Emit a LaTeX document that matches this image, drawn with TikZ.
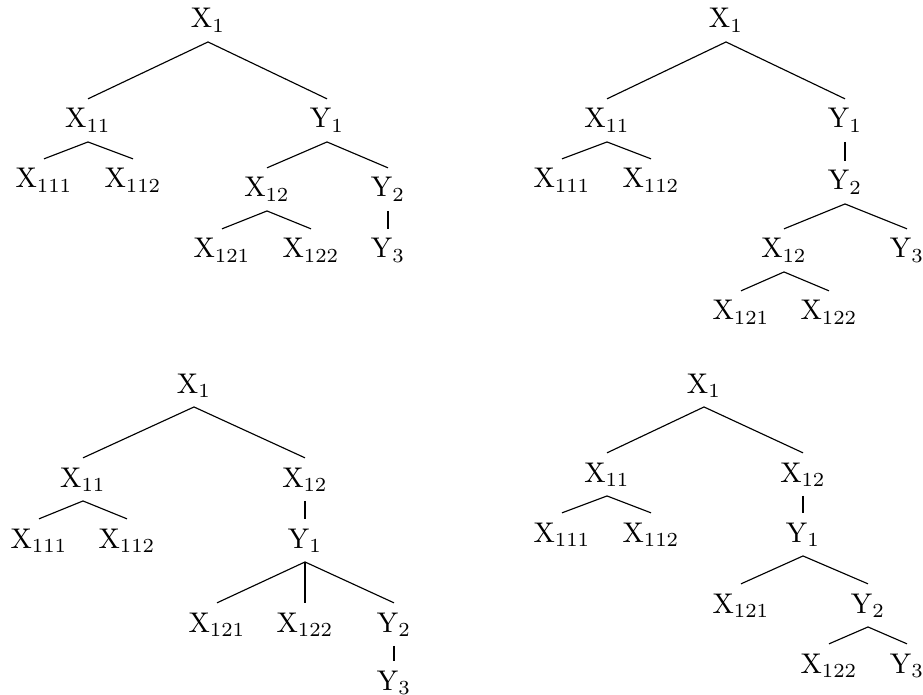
\documentclass[tikz,border=0pt]{standalone}
\begin{document}
\begin{tikzpicture}[x=0.351pt,y=-0.351pt,
  nd/.style={anchor=base,inner sep=3.2pt},
  edge/.style={draw,line width=0.4pt}]
\useasboundingbox (0,0) rectangle (923,695);
% ---- tree A (top left)
\node[nd] (aX1)   at (208,28)  {$\mathrm{X}_{1}$};
\node[nd] (aX11)  at (88,128)  {$\mathrm{X}_{11}$};
\node[nd] (aY1)   at (327,128) {$\mathrm{Y}_{1}$};
\node[nd] (aX111) at (44,188)  {$\mathrm{X}_{111}$};
\node[nd] (aX112) at (133,188) {$\mathrm{X}_{112}$};
\node[nd] (aX12)  at (267,197) {$\mathrm{X}_{12}$};
\node[nd] (aY2)   at (388,197) {$\mathrm{Y}_{2}$};
\node[nd] (aX121) at (222,258) {$\mathrm{X}_{121}$};
\node[nd] (aX122) at (311,258) {$\mathrm{X}_{122}$};
\node[nd] (aY3)   at (388,258) {$\mathrm{Y}_{3}$};
\draw[edge] (aX1.south) -- (aX11.north);
\draw[edge] (aX1.south) -- (aY1.north);
\draw[edge] (aX11.south) -- (aX111.north);
\draw[edge] (aX11.south) -- (aX112.north);
\draw[edge] (aY1.south) -- (aX12.north);
\draw[edge] (aY1.south) -- (aY2.north);
\draw[edge] (aX12.south) -- (aX121.north);
\draw[edge] (aX12.south) -- (aX122.north);
\draw[edge] (aY2.south) -- (aY3.north);
% ---- tree B (top right)
\node[nd] (bX1)   at (726,28)  {$\mathrm{X}_{1}$};
\node[nd] (bX11)  at (607,128) {$\mathrm{X}_{11}$};
\node[nd] (bY1)   at (845,128) {$\mathrm{Y}_{1}$};
\node[nd] (bX111) at (562,188) {$\mathrm{X}_{111}$};
\node[nd] (bX112) at (651,188) {$\mathrm{X}_{112}$};
\node[nd] (bY2)   at (845,190) {$\mathrm{Y}_{2}$};
\node[nd] (bX12)  at (784,258) {$\mathrm{X}_{12}$};
\node[nd] (bY3)   at (907,258) {$\mathrm{Y}_{3}$};
\node[nd] (bX121) at (741,320) {$\mathrm{X}_{121}$};
\node[nd] (bX122) at (829,320) {$\mathrm{X}_{122}$};
\draw[edge] (bX1.south) -- (bX11.north);
\draw[edge] (bX1.south) -- (bY1.north);
\draw[edge] (bX11.south) -- (bX111.north);
\draw[edge] (bX11.south) -- (bX112.north);
\draw[edge] (bY1.south) -- (bY2.north);
\draw[edge] (bY2.south) -- (bX12.north);
\draw[edge] (bY2.south) -- (bY3.north);
\draw[edge] (bX12.south) -- (bX121.north);
\draw[edge] (bX12.south) -- (bX122.north);
% ---- tree C (bottom left)
\node[nd] (cX1)   at (194,393) {$\mathrm{X}_{1}$};
\node[nd] (cX11)  at (83,487)  {$\mathrm{X}_{11}$};
\node[nd] (cX12)  at (305,487) {$\mathrm{X}_{12}$};
\node[nd] (cX111) at (39,548)  {$\mathrm{X}_{111}$};
\node[nd] (cX112) at (127,548) {$\mathrm{X}_{112}$};
\node[nd] (cY1)   at (305,548) {$\mathrm{Y}_{1}$};
\node[nd] (cX121) at (217,632) {$\mathrm{X}_{121}$};
\node[nd] (cX122) at (305,632) {$\mathrm{X}_{122}$};
\node[nd] (cY2)   at (394,632) {$\mathrm{Y}_{2}$};
\node[nd] (cY3)   at (394,690) {$\mathrm{Y}_{3}$};
\draw[edge] (cX1.south) -- (cX11.north);
\draw[edge] (cX1.south) -- (cX12.north);
\draw[edge] (cX11.south) -- (cX111.north);
\draw[edge] (cX11.south) -- (cX112.north);
\draw[edge] (cX12.south) -- (cY1.north);
\draw[edge] (cY1.south) -- (cX121.north);
\draw[edge] (cY1.south) -- (cX122.north);
\draw[edge] (cY1.south) -- (cY2.north);
\draw[edge] (cY2.south) -- (cY3.north);
% ---- tree D (bottom right)
\node[nd] (dX1)   at (704,393) {$\mathrm{X}_{1}$};
\node[nd] (dX11)  at (607,482) {$\mathrm{X}_{11}$};
\node[nd] (dX12)  at (803,482) {$\mathrm{X}_{12}$};
\node[nd] (dX111) at (562,542) {$\mathrm{X}_{111}$};
\node[nd] (dX112) at (651,542) {$\mathrm{X}_{112}$};
\node[nd] (dY1)   at (803,542) {$\mathrm{Y}_{1}$};
\node[nd] (dX121) at (741,613) {$\mathrm{X}_{121}$};
\node[nd] (dY2)   at (868,613) {$\mathrm{Y}_{2}$};
\node[nd] (dX122) at (829,673) {$\mathrm{X}_{122}$};
\node[nd] (dY3)   at (907,673) {$\mathrm{Y}_{3}$};
\draw[edge] (dX1.south) -- (dX11.north);
\draw[edge] (dX1.south) -- (dX12.north);
\draw[edge] (dX11.south) -- (dX111.north);
\draw[edge] (dX11.south) -- (dX112.north);
\draw[edge] (dX12.south) -- (dY1.north);
\draw[edge] (dY1.south) -- (dX121.north);
\draw[edge] (dY1.south) -- (dY2.north);
\draw[edge] (dY2.south) -- (dX122.north);
\draw[edge] (dY2.south) -- (dY3.north);
\end{tikzpicture}
\end{document}
